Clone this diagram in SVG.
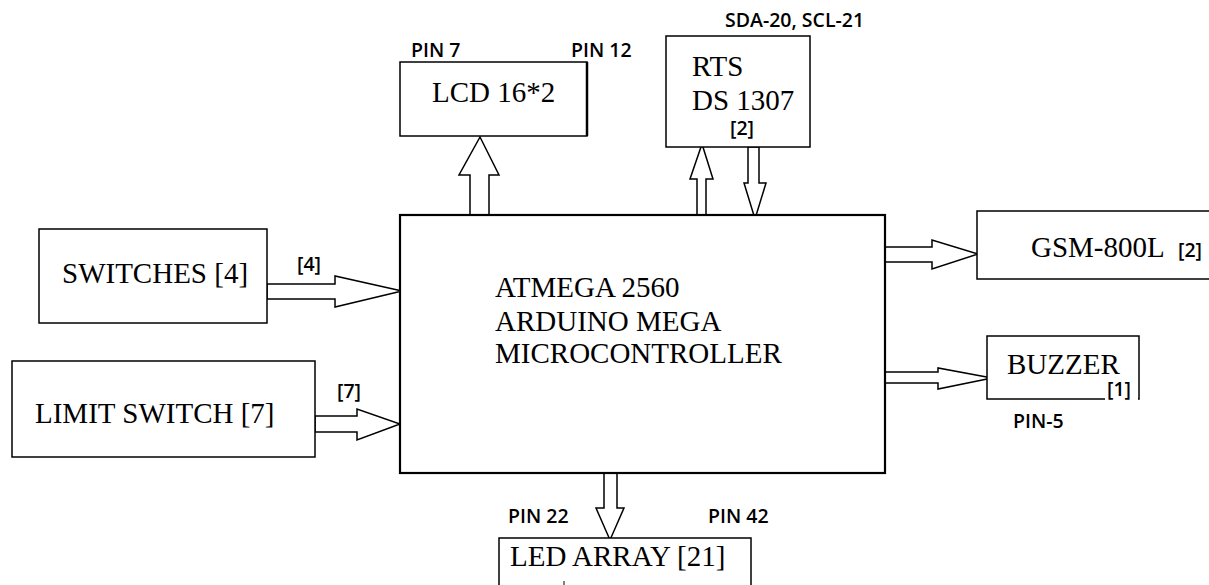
<svg xmlns="http://www.w3.org/2000/svg" width="1209" height="585" viewBox="0 0 1209 585">
<style>
.box{fill:#fff;stroke:#000;stroke-width:1.5}
.main{fill:#fff;stroke:#000;stroke-width:2.2}
.arr{fill:#fff;stroke:#000;stroke-width:1.5;stroke-linejoin:miter}
.t{font-family:"Liberation Serif","Times New Roman",serif;font-size:29px;fill:#000}
.s{font-family:"Open Sans","Liberation Sans",sans-serif;font-size:19.5px;font-weight:600;fill:#000}
</style>
<rect width="1209" height="585" fill="#fff"/>
<g id="connectors">
<polygon class="arr" points="470,215 470,175 459,175 480,137 499,175 489,175 489,215"/>
<polygon class="arr" points="697,215 697,179 690,179 702,144 713,179 706,179 706,215"/>
<polygon class="arr" points="748,147 748,183 744,183 755,219 766,183 759,183 759,147"/>
<polygon class="arr" points="267,284 335,284 335,276 402,291 335,307 335,299 267,299"/>
<polygon class="arr" points="315,416 357,416 357,409 400,424 357,440 357,432 315,432"/>
<polygon class="arr" points="885,247 932,247 932,240 978,254 932,269 932,262 885,262"/>
<polygon class="arr" points="885,372 938,372 938,368 992,378 938,389 938,383 885,383"/>
<polygon class="arr" points="604,473 604,508 596,508 610,540 624,508 617,508 617,473"/>
</g>
<g id="main">
<rect class="main" x="400" y="215" width="485" height="258"/>
<text class="t" x="495" y="297" font-size="29.3">ATMEGA 2560</text>
<text class="t" x="495" y="331" font-size="29.3">ARDUINO MEGA</text>
<text class="t" x="495" y="363" font-size="29.3">MICROCONTROLLER</text>
</g>
<g id="lcd">
<rect class="box" x="400" y="62" width="187" height="74"/>
<line x1="587" y1="62" x2="587" y2="136" stroke="#000" stroke-width="2.5"/>
<text class="t" x="432" y="102" font-size="30">LCD 16*2</text>
<text class="s" x="411" y="57">PIN 7</text>
<text class="s" x="571" y="57">PIN 12</text>
</g>
<g id="rts">
<rect class="box" x="666" y="36" width="144" height="111"/>
<text class="t" x="692" y="76">RTS</text>
<text class="t" x="692" y="110">DS 1307</text>
<text class="s" x="742" y="135" text-anchor="middle">[2]</text>
<text class="s" x="725" y="27">SDA-20, SCL-21</text>
</g>
<g id="switches">
<rect class="box" x="39" y="229" width="228" height="94"/>
<text class="t" x="62" y="283">SWITCHES [4]</text>
<text class="s" x="297" y="271">[4]</text>
</g>
<g id="limit">
<rect class="box" x="12" y="361" width="303" height="96"/>
<text class="t" x="35" y="423">LIMIT SWITCH [7]</text>
<text class="s" x="337" y="398">[7]</text>
</g>
<g id="gsm">
<rect class="box" x="977" y="211" width="240" height="68"/>
<text class="t" x="1031" y="257">GSM-800L</text>
<text class="s" x="1178" y="257">[2]</text>
</g>
<g id="buzzer">
<rect class="box" x="987" y="336" width="152" height="63"/>
<rect x="1105" y="394" width="33" height="8" fill="#fff"/>
<text class="t" x="1007" y="374">BUZZER</text>
<text class="s" x="1107" y="396">[1]</text>
<text class="s" x="1013" y="428">PIN-5</text>
</g>
<g id="led">
<rect class="box" x="499" y="538" width="252" height="60"/>
<text class="t" x="510" y="566">LED ARRAY [21]</text>
<line x1="564" y1="581" x2="564" y2="585" stroke="#000" stroke-width="1"/>
<text class="s" x="508" y="523">PIN 22</text>
<text class="s" x="708" y="523">PIN 42</text>
</g>
</svg>
